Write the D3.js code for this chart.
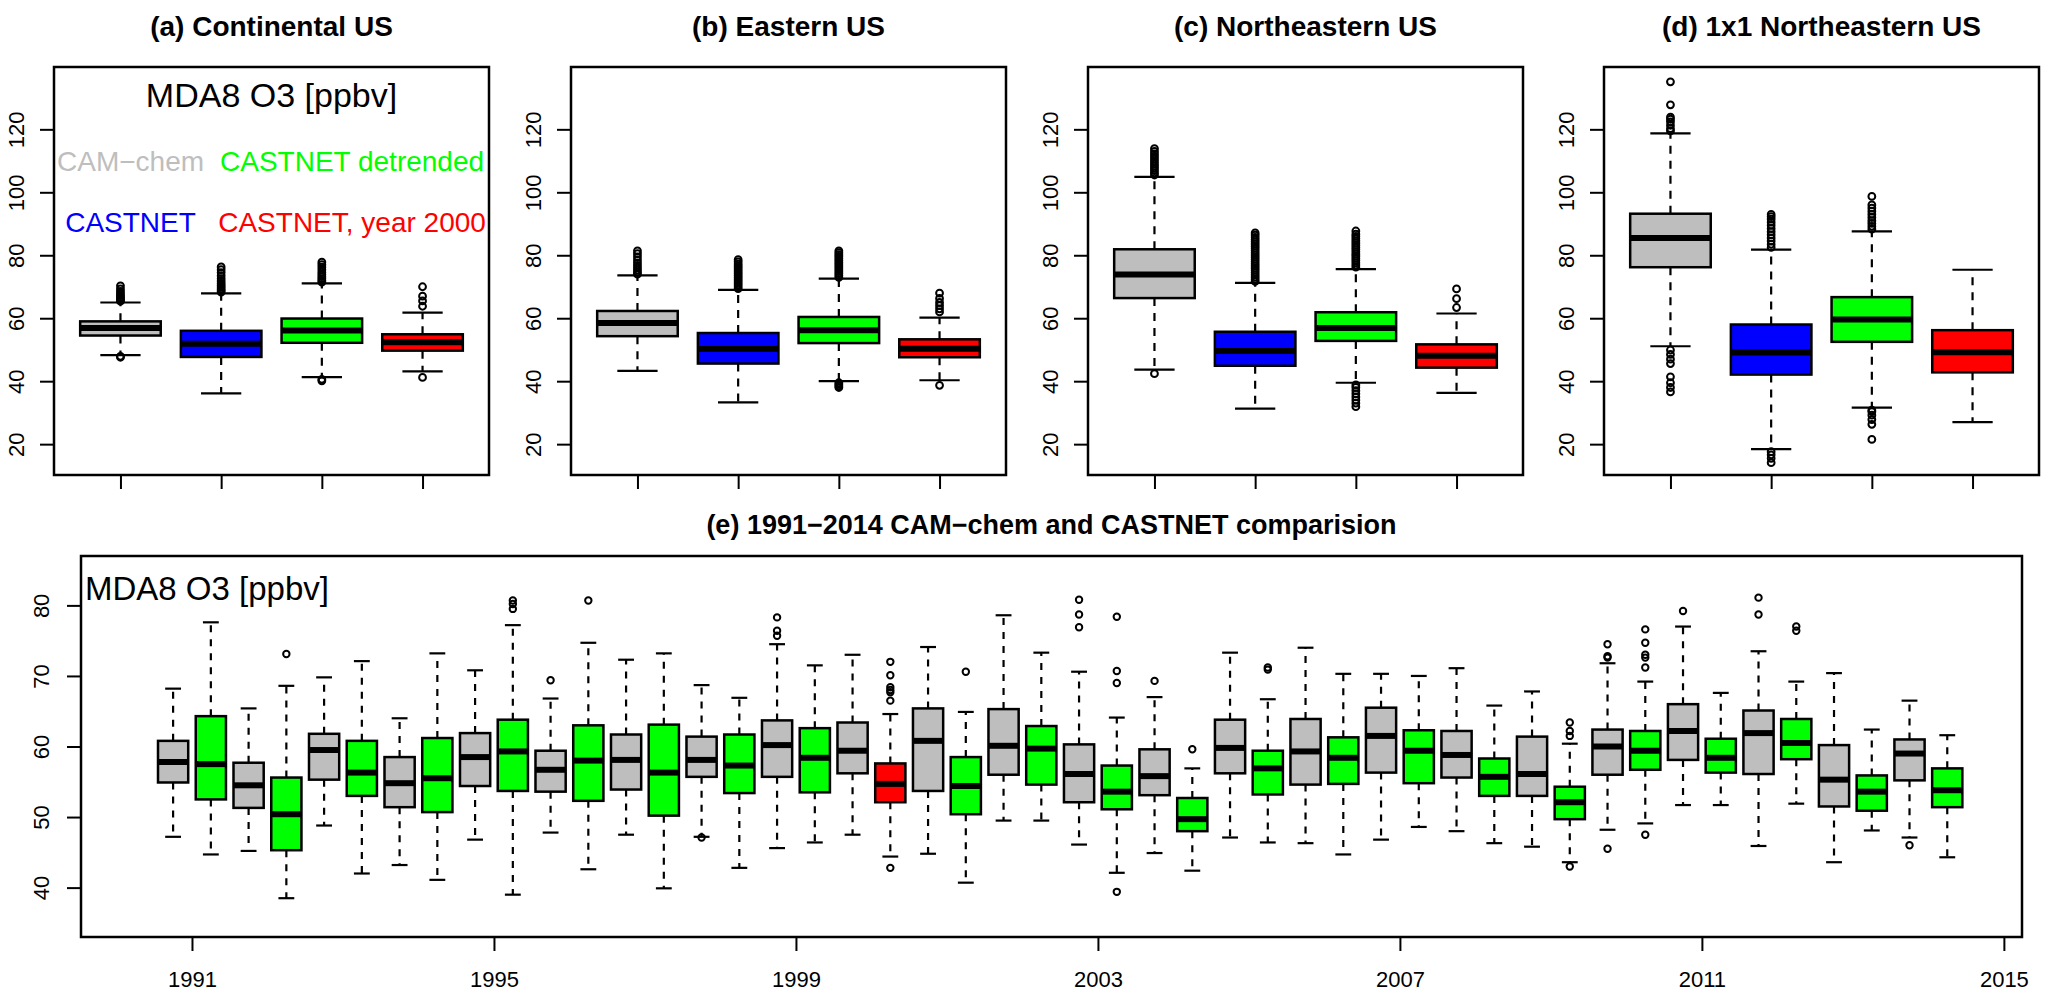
<!DOCTYPE html>
<html><head><meta charset="utf-8">
<script src="https://cdn.jsdelivr.net/npm/d3@7"></script>
<style>
body{margin:0;background:#fff;}
text{font-family:"Liberation Sans",Arial,Helvetica,sans-serif;}
</style>
</head><body>
<svg id="chart" width="2067" height="998"></svg>
<script>
// ---------------- DATA ----------------
const regionTitles = ["(a) Continental US", "(b) Eastern US", "(c) Northeastern US", "(d) 1x1 Northeastern US"];
const seriesNames = ["CAM\u2212chem", "CASTNET", "CASTNET detrended", "CASTNET, year 2000"];
const seriesColors = ["#BEBEBE", "#0000FF", "#00FF00", "#FF0000"];
const topYTicks = [20, 40, 60, 80, 100, 120];
const topXTicks = [1, 2, 3, 4];

// box statistics per region: [lower whisker, Q1, median, Q3, upper whisker] for CAM-chem, CASTNET, detrended, year 2000
const continentalStats = [
  [48.3, 54.5, 56.9, 59.0, 65.0],
  [36.1, 47.7, 51.9, 56.0, 67.9],
  [41.3, 52.2, 56.1, 59.9, 71.1],
  [43.1, 49.7, 52.4, 54.9, 61.8]
];
const continentalOutliers = [
  [47.6, 47.9, 65.4, 65.8, 66.2, 66.7, 67.2, 67.8, 68.5, 69.3, 70.3],
  [68.3, 68.8, 69.3, 69.9, 70.5, 71.1, 71.8, 72.6, 73.5, 74.5, 75.4, 76.3],
  [40.1, 40.6, 71.5, 72.0, 72.6, 73.2, 73.9, 74.6, 75.4, 76.2, 77.0, 77.8],
  [41.2, 63.8, 65.5, 67.0, 70.0]
];
const easternStats = [
  [43.3, 54.3, 58.5, 62.3, 73.6],
  [33.3, 45.6, 50.2, 55.3, 69.0],
  [40.0, 52.1, 56.2, 60.4, 72.6],
  [40.3, 47.6, 50.3, 53.3, 60.2]
];
const easternOutliers = [
  [74.0, 74.6, 75.3, 76.0, 76.8, 77.6, 78.5, 79.5, 80.5, 81.4],
  [69.4, 70.0, 70.6, 71.2, 71.8, 72.4, 73.0, 73.6, 74.2, 74.8, 75.4, 76.0, 76.6, 77.2, 77.9, 78.6],
  [38.0, 38.5, 39.0, 39.5, 73.0, 73.6, 74.2, 74.8, 75.4, 76.0, 76.6, 77.2, 77.8, 78.4, 79.0, 79.6, 80.2, 80.8, 81.4],
  [38.7, 62.0, 63.0, 64.0, 65.0, 66.3, 68.0]
];
const northeasternStats = [
  [43.7, 66.4, 73.9, 81.9, 104.9],
  [31.3, 44.9, 49.6, 55.7, 71.2],
  [39.5, 52.8, 56.9, 61.9, 75.6],
  [36.3, 44.3, 48.1, 51.7, 61.5]
];
const northeasternOutliers = [
  [42.4, 105.5, 106.2, 106.9, 107.6, 108.3, 109.0, 109.8, 110.6, 111.4, 112.2, 113.0, 113.9],
  [71.7, 72.4, 73.1, 73.8, 74.5, 75.2, 75.9, 76.6, 77.3, 78.0, 78.7, 79.4, 80.1, 80.8, 81.5, 82.2, 82.9, 83.6, 84.3, 85.0, 85.7, 86.4, 87.1],
  [31.9, 33.0, 34.0, 35.0, 36.0, 37.0, 38.0, 38.8, 76.2, 76.9, 77.6, 78.3, 79.0, 79.7, 80.4, 81.1, 81.8, 82.5, 83.2, 83.9, 84.6, 85.3, 86.0, 86.7, 87.7],
  [63.4, 66.2, 69.3]
];
const grid1x1Stats = [
  [51.1, 76.2, 85.5, 93.2, 118.7],
  [18.4, 42.1, 49.1, 58.0, 81.8],
  [31.6, 52.5, 59.6, 66.7, 87.6],
  [27.0, 42.8, 49.2, 56.2, 75.4]
];
const grid1x1Outliers = [
  [36.6, 38.0, 39.5, 41.4, 45.6, 47.0, 48.5, 49.9, 119.5, 120.2, 121.3, 122.4, 123.2, 123.9, 127.8, 135.1],
  [14.1, 15.5, 16.6, 17.6, 82.5, 83.5, 84.5, 85.5, 86.5, 87.5, 88.5, 89.5, 90.5, 91.5, 92.3, 93.0],
  [21.5, 26.3, 27.8, 29.2, 30.3, 30.8, 88.3, 89.2, 90.1, 91.0, 92.0, 93.0, 94.0, 95.0, 96.0, 98.7],
  []
];

// yearly comparison panel (e)
const years = [1991, 1992, 1993, 1994, 1995, 1996, 1997, 1998, 1999, 2000, 2001, 2002,
               2003, 2004, 2005, 2006, 2007, 2008, 2009, 2010, 2011, 2012, 2013, 2014];
const yearTicks = [1991, 1995, 1999, 2003, 2007, 2011, 2015];
const yearYTicks = [40, 50, 60, 70, 80];
const referenceYear = 2000;
const camchemYearStats = [
  [47.2, 54.9, 57.8, 60.8, 68.2],
  [45.2, 51.3, 54.5, 57.7, 65.4],
  [48.8, 55.3, 59.5, 61.8, 69.8],
  [43.2, 51.4, 54.8, 58.5, 64.0],
  [46.8, 54.4, 58.5, 61.9, 70.8],
  [47.8, 53.6, 56.7, 59.4, 66.8],
  [47.5, 53.9, 58.1, 61.7, 72.3],
  [47.2, 55.7, 58.1, 61.4, 68.7],
  [45.6, 55.7, 60.2, 63.7, 74.5],
  [47.5, 56.2, 59.4, 63.4, 73.0],
  [44.8, 53.7, 60.8, 65.4, 74.1],
  [49.5, 56.0, 60.1, 65.3, 78.6],
  [46.1, 52.1, 56.1, 60.3, 70.6],
  [44.9, 53.1, 55.8, 59.6, 67.0],
  [47.1, 56.2, 59.8, 63.8, 73.3],
  [46.3, 54.6, 59.3, 63.9, 74.0],
  [46.8, 56.3, 61.5, 65.5, 70.3],
  [48.0, 55.6, 58.8, 62.2, 71.1],
  [45.8, 53.0, 56.1, 61.4, 67.8],
  [48.2, 56.0, 60.0, 62.4, 71.8],
  [51.7, 58.1, 62.2, 66.0, 77.0],
  [45.9, 56.1, 61.9, 65.1, 73.5],
  [43.6, 51.5, 55.3, 60.2, 70.4],
  [47.1, 55.2, 59.0, 61.0, 66.5]
];
const camchemYearOutliers = [
  [], [], [], [], [], [69.4], [], [47.1], [75.7, 76.4, 78.3], [], [], [],
  [76.9, 78.7, 80.8], [69.3], [], [], [], [], [], [45.5, 72.6, 72.8, 74.5], [79.2], [78.7, 81.1], [], [46.0]
];
const castnetYearStats = [
  [44.7, 52.5, 57.5, 64.3, 77.6],
  [38.5, 45.3, 50.4, 55.6, 68.6],
  [42.0, 53.0, 56.3, 60.8, 72.1],
  [41.1, 50.7, 55.5, 61.2, 73.2],
  [39.0, 53.7, 59.3, 63.8, 77.2],
  [42.6, 52.3, 58.0, 63.0, 74.7],
  [39.9, 50.2, 56.3, 63.1, 73.2],
  [42.8, 53.4, 57.3, 61.7, 66.9],
  [46.4, 53.5, 58.4, 62.6, 71.5],
  [44.4, 52.1, 54.7, 57.6, 64.6],
  [40.7, 50.4, 54.4, 58.5, 64.9],
  [49.5, 54.6, 59.7, 62.9, 73.3],
  [42.1, 51.1, 53.6, 57.3, 64.1],
  [42.4, 48.0, 49.7, 52.7, 56.9],
  [46.4, 53.2, 56.9, 59.4, 66.7],
  [44.7, 54.7, 58.4, 61.3, 70.3],
  [48.6, 54.8, 59.4, 62.3, 70.0],
  [46.3, 53.0, 55.7, 58.3, 65.8],
  [43.6, 49.7, 52.1, 54.3, 60.4],
  [49.1, 56.7, 59.4, 62.2, 69.2],
  [51.7, 56.3, 58.4, 61.1, 67.6],
  [51.9, 58.2, 60.5, 63.9, 69.2],
  [48.1, 50.9, 53.6, 55.9, 62.4],
  [44.3, 51.4, 53.8, 56.9, 61.6]
];
const castnetYearOutliers = [
  [], [73.1], [], [], [79.5, 80.2, 80.7], [80.7], [], [], [],
  [42.8, 66.5, 67.7, 68.0, 68.4, 70.1, 72.0], [70.6], [],
  [39.4, 69.0, 70.7, 78.4], [59.6], [70.9, 71.2], [], [], [],
  [43.0, 61.5, 62.2, 63.4], [47.5, 71.2, 72.6, 73.0, 74.7, 76.6], [], [76.4, 77.0], [], []
];

const regionStats = [continentalStats, easternStats, northeasternStats, grid1x1Stats];
const regionOutliers = [continentalOutliers, easternOutliers, northeasternOutliers, grid1x1Outliers];

// ---------------- DRAWING ----------------
const svg = d3.select("#chart");
const FONT = '"Liberation Sans",Arial,Helvetica,sans-serif';

function drawBox(g, xs, ys, pos, width, capW, st, outs, fill, o) {
  const [lo, q1, med, q3, hi] = st;
  const cx = xs(pos);
  const half = (xs(pos + width / 2) - xs(pos - width / 2)) / 2;
  const capHalf = (xs(pos + capW / 2) - xs(pos - capW / 2)) / 2;
  [[q3, hi], [q1, lo]].forEach(([a, b]) => {
    g.append("line").attr("x1", cx).attr("x2", cx).attr("y1", ys(a)).attr("y2", ys(b))
      .attr("stroke", "#000").attr("stroke-width", o.wl).attr("stroke-dasharray", o.dash);
    g.append("line").attr("x1", cx - capHalf).attr("x2", cx + capHalf).attr("y1", ys(b)).attr("y2", ys(b))
      .attr("stroke", "#000").attr("stroke-width", o.wl);
  });
  g.append("rect").attr("x", cx - half).attr("y", ys(q3)).attr("width", 2 * half).attr("height", ys(q1) - ys(q3))
    .attr("fill", fill).attr("stroke", "#000").attr("stroke-width", o.bl);
  g.append("line").attr("x1", cx - half).attr("x2", cx + half).attr("y1", ys(med)).attr("y2", ys(med))
    .attr("stroke", "#000").attr("stroke-width", o.ml);
  outs.forEach(v => {
    g.append("circle").attr("cx", cx).attr("cy", ys(v)).attr("r", o.r)
      .attr("fill", "none").attr("stroke", "#000").attr("stroke-width", o.cl);
  });
}

function rotatedYAxis(g, ys, ticks, fontSize, offset) {
  const ax = g.append("g").call(d3.axisLeft(ys).tickValues(ticks).tickSize(14).tickFormat(d3.format("d")));
  ax.select(".domain").remove();
  ax.selectAll(".tick line").attr("stroke", "#000").attr("stroke-width", 2);
  ax.selectAll(".tick text").attr("x", null).attr("dy", "0.35em")
    .attr("transform", `translate(${-offset},0) rotate(-90)`)
    .attr("text-anchor", "middle").attr("font-size", fontSize).attr("font-family", FONT).attr("fill", "#000");
}

// top panels
const topW = 435, topTop = 67, topBottom = 475;
const topLefts = [54, 571, 1088, 1604];
const yTop = d3.scaleLinear().domain([10.2, 139.8]).range([topBottom, topTop]);
const boxOpt = {wl: 2.2, dash: "8,7", bl: 2.5, ml: 6, r: 3.4, cl: 2};

regionTitles.forEach((title, i) => {
  const left = topLefts[i];
  const xs = d3.scaleLinear().domain([0.34, 4.66]).range([left, left + topW]);
  const g = svg.append("g");
  g.append("text").attr("x", left + topW / 2).attr("y", 36).attr("text-anchor", "middle")
    .attr("font-size", 28).attr("font-weight", "bold").text(title);
  regionStats[i].forEach((st, k) => {
    drawBox(g, xs, yTop, topXTicks[k], 0.8, 0.4, st, regionOutliers[i][k], seriesColors[k], boxOpt);
  });
  // x axis ticks
  const xa = g.append("g").attr("transform", `translate(0,${topBottom})`)
    .call(d3.axisBottom(xs).tickValues(topXTicks).tickSize(14).tickFormat(""));
  xa.select(".domain").remove();
  xa.selectAll(".tick line").attr("stroke", "#000").attr("stroke-width", 2);
  const ya = g.append("g").attr("transform", `translate(${left},0)`);
  rotatedYAxis(ya, yTop, topYTicks, 22, 38);
  g.append("rect").attr("x", left).attr("y", topTop).attr("width", topW).attr("height", topBottom - topTop)
    .attr("fill", "none").attr("stroke", "#000").attr("stroke-width", 2.5);

  if (i === 0) {
    g.append("text").attr("x", xs(2.5)).attr("y", yTop(131)).attr("dy", "0.35em").attr("text-anchor", "middle")
      .attr("font-size", 34).text("MDA8 O3 [ppbv]");
    const legPos = [[1.1, 110], [1.1, 90.5], [3.3, 110], [3.3, 90.5]];
    const legOrder = [0, 1, 2, 3];
    legOrder.forEach((k, j) => {
      g.append("text").attr("x", xs(legPos[j][0])).attr("y", yTop(legPos[j][1])).attr("dy", "0.35em")
        .attr("text-anchor", "middle").attr("font-size", 28).attr("fill", seriesColors[k]).text(seriesNames[k]);
    });
  }
});

// bottom panel
const bLeft = 81, bRight = 2022, bTop = 556, bBottom = 937;
const xYear = d3.scaleLinear().domain([1989.53, 2015.24]).range([bLeft, bRight]);
const yYear = d3.scaleLinear().domain([33, 87]).range([bBottom, bTop]);
const gb = svg.append("g");
gb.append("text").attr("x", (bLeft + bRight) / 2).attr("y", 534).attr("text-anchor", "middle")
  .attr("font-size", 27).attr("font-weight", "bold").text("(e) 1991\u22122014 CAM\u2212chem and CASTNET comparision");
const yearOpt = {wl: 2.2, dash: "7,7", bl: 2.5, ml: 6, r: 3.2, cl: 2};
years.forEach((yr, i) => {
  drawBox(gb, xYear, yYear, yr - 0.25, 0.4, 0.21, camchemYearStats[i], camchemYearOutliers[i], seriesColors[0], yearOpt);
  const col = yr === referenceYear ? seriesColors[3] : seriesColors[2];
  drawBox(gb, xYear, yYear, yr + 0.25, 0.4, 0.21, castnetYearStats[i], castnetYearOutliers[i], col, yearOpt);
});
const xb = gb.append("g").attr("transform", `translate(0,${bBottom})`)
  .call(d3.axisBottom(xYear).tickValues(yearTicks).tickSize(14).tickPadding(20).tickFormat(d3.format("d")));
xb.select(".domain").remove();
xb.selectAll(".tick line").attr("stroke", "#000").attr("stroke-width", 2);
xb.selectAll(".tick text").attr("font-size", 22).attr("font-family", FONT).attr("fill", "#000");
const yb = gb.append("g").attr("transform", `translate(${bLeft},0)`);
rotatedYAxis(yb, yYear, yearYTicks, 22, 40);
gb.append("rect").attr("x", bLeft).attr("y", bTop).attr("width", bRight - bLeft).attr("height", bBottom - bTop)
  .attr("fill", "none").attr("stroke", "#000").attr("stroke-width", 2.5);
gb.append("text").attr("x", bLeft + 4).attr("y", 600).attr("font-size", 33).text("MDA8 O3 [ppbv]");
</script>
</body></html>
